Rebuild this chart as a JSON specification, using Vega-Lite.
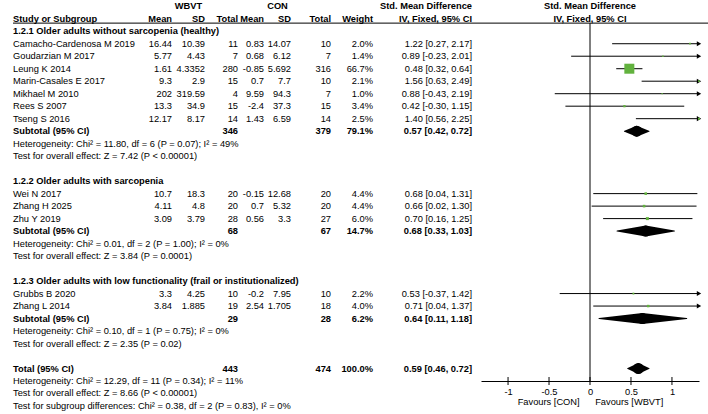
{
"$schema": "https://vega.github.io/schema/vega-lite/v6.json",
"background": "white",
"padding": {"left": 12, "top": 0, "right": 0, "bottom": 0},
"bounds": "flush",
"spacing": 0,
"config": {
 "view": {"stroke": null},
 "text": {"font": "Liberation Sans", "fontSize": 9.3, "color": "#000"},
 "axisX": {"domainColor": "#000", "ticks": false, "domainWidth": 1, "labelFont": "Liberation Sans", "labelFontSize": 9.3, "labelColor": "#000", "labelPadding": 6, "labelFlush": false, "labelOverlap": false, "titleFont": "Liberation Sans", "titleFontSize": 9.3, "titleFontWeight": "normal", "titleColor": "#000", "titlePadding": 1, "grid": false}
},
"data": {"values": [
 {"row": -1, "kind": "head1", "sd1": "WBVT", "sd2": "CON", "ci": "Std. Mean Difference", "plot": "Std. Mean Difference"},
 {"row": 0, "kind": "head2", "label": "Study or Subgroup", "m1": "Mean", "sd1": "SD", "n1": "Total", "m2": "Mean", "sd2": "SD", "n2": "Total", "w": "Weight", "ci": "IV, Fixed, 95% CI", "plot": "IV, Fixed, 95% CI"},
 {"row": 1, "kind": "section", "label": "1.2.1 Older adults without sarcopenia (healthy)"},
 {"row": 2, "kind": "study", "label": "Camacho-Cardenosa M 2019", "m1": "16.44", "sd1": "10.39", "n1": "11", "m2": "0.83", "sd2": "14.07", "n2": "10", "w": "2.0%", "ci": "1.22 [0.27, 2.17]", "est": 1.22, "lo": 0.27, "hi": 2.17, "wt": 2.0},
 {"row": 3, "kind": "study", "label": "Goudarzian M 2017", "m1": "5.77", "sd1": "4.43", "n1": "7", "m2": "0.68", "sd2": "6.12", "n2": "7", "w": "1.4%", "ci": "0.89 [-0.23, 2.01]", "est": 0.89, "lo": -0.23, "hi": 2.01, "wt": 1.4},
 {"row": 4, "kind": "study", "label": "Leung K 2014", "m1": "1.61", "sd1": "4.3352", "n1": "280", "m2": "-0.85", "sd2": "5.692", "n2": "316", "w": "66.7%", "ci": "0.48 [0.32, 0.64]", "est": 0.48, "lo": 0.32, "hi": 0.64, "wt": 66.7},
 {"row": 5, "kind": "study", "label": "Marin-Casales E 2017", "m1": "9.3", "sd1": "2.9", "n1": "15", "m2": "0.7", "sd2": "7.7", "n2": "10", "w": "2.1%", "ci": "1.56 [0.63, 2.49]", "est": 1.56, "lo": 0.63, "hi": 2.49, "wt": 2.1},
 {"row": 6, "kind": "study", "label": "Mikhael M 2010", "m1": "202", "sd1": "319.59", "n1": "4", "m2": "9.59", "sd2": "94.3", "n2": "7", "w": "1.0%", "ci": "0.88 [-0.43, 2.19]", "est": 0.88, "lo": -0.43, "hi": 2.19, "wt": 1.0},
 {"row": 7, "kind": "study", "label": "Rees S 2007", "m1": "13.3", "sd1": "34.9", "n1": "15", "m2": "-2.4", "sd2": "37.3", "n2": "15", "w": "3.4%", "ci": "0.42 [-0.30, 1.15]", "est": 0.42, "lo": -0.30, "hi": 1.15, "wt": 3.4},
 {"row": 8, "kind": "study", "label": "Tseng S 2016", "m1": "12.17", "sd1": "8.17", "n1": "14", "m2": "1.43", "sd2": "6.59", "n2": "14", "w": "2.5%", "ci": "1.40 [0.56, 2.25]", "est": 1.40, "lo": 0.56, "hi": 2.25, "wt": 2.5},
 {"row": 9, "kind": "subtotal", "label": "Subtotal (95% CI)", "n1": "346", "n2": "379", "w": "79.1%", "ci": "0.57 [0.42, 0.72]", "est": 0.57, "lo": 0.42, "hi": 0.72},
 {"row": 10, "kind": "het", "label": "Heterogeneity: Chi² = 11.80, df = 6 (P = 0.07); I² = 49%"},
 {"row": 11, "kind": "het", "label": "Test for overall effect: Z = 7.42 (P < 0.00001)"},
 {"row": 13, "kind": "section", "label": "1.2.2 Older adults with sarcopenia"},
 {"row": 14, "kind": "study", "label": "Wei N 2017", "m1": "10.7", "sd1": "18.3", "n1": "20", "m2": "-0.15", "sd2": "12.68", "n2": "20", "w": "4.4%", "ci": "0.68 [0.04, 1.31]", "est": 0.68, "lo": 0.04, "hi": 1.31, "wt": 4.4},
 {"row": 15, "kind": "study", "label": "Zhang H 2025", "m1": "4.11", "sd1": "4.8", "n1": "20", "m2": "0.7", "sd2": "5.32", "n2": "20", "w": "4.4%", "ci": "0.66 [0.02, 1.30]", "est": 0.66, "lo": 0.02, "hi": 1.30, "wt": 4.4},
 {"row": 16, "kind": "study", "label": "Zhu Y 2019", "m1": "3.09", "sd1": "3.79", "n1": "28", "m2": "0.56", "sd2": "3.3", "n2": "27", "w": "6.0%", "ci": "0.70 [0.16, 1.25]", "est": 0.70, "lo": 0.16, "hi": 1.25, "wt": 6.0},
 {"row": 17, "kind": "subtotal", "label": "Subtotal (95% CI)", "n1": "68", "n2": "67", "w": "14.7%", "ci": "0.68 [0.33, 1.03]", "est": 0.68, "lo": 0.33, "hi": 1.03},
 {"row": 18, "kind": "het", "label": "Heterogeneity: Chi² = 0.01, df = 2 (P = 1.00); I² = 0%"},
 {"row": 19, "kind": "het", "label": "Test for overall effect: Z = 3.84 (P = 0.0001)"},
 {"row": 21, "kind": "section", "label": "1.2.3 Older adults with low functionality (frail or institutionalized)"},
 {"row": 22, "kind": "study", "label": "Grubbs B 2020", "m1": "3.3", "sd1": "4.25", "n1": "10", "m2": "-0.2", "sd2": "7.95", "n2": "10", "w": "2.2%", "ci": "0.53 [-0.37, 1.42]", "est": 0.53, "lo": -0.37, "hi": 1.42, "wt": 2.2},
 {"row": 23, "kind": "study", "label": "Zhang L 2014", "m1": "3.84", "sd1": "1.885", "n1": "19", "m2": "2.54", "sd2": "1.705", "n2": "18", "w": "4.0%", "ci": "0.71 [0.04, 1.37]", "est": 0.71, "lo": 0.04, "hi": 1.37, "wt": 4.0},
 {"row": 24, "kind": "subtotal", "label": "Subtotal (95% CI)", "n1": "29", "n2": "28", "w": "6.2%", "ci": "0.64 [0.11, 1.18]", "est": 0.64, "lo": 0.11, "hi": 1.18},
 {"row": 25, "kind": "het", "label": "Heterogeneity: Chi² = 0.10, df = 1 (P = 0.75); I² = 0%"},
 {"row": 26, "kind": "het", "label": "Test for overall effect: Z = 2.35 (P = 0.02)"},
 {"row": 28, "kind": "total", "label": "Total (95% CI)", "n1": "443", "n2": "474", "w": "100.0%", "ci": "0.59 [0.46, 0.72]", "est": 0.59, "lo": 0.46, "hi": 0.72},
 {"row": 29, "kind": "het", "label": "Heterogeneity: Chi² = 12.29, df = 11 (P = 0.34); I² = 11%"},
 {"row": 30, "kind": "het", "label": "Test for overall effect: Z = 8.66 (P < 0.00001)"},
 {"row": 31, "kind": "het", "label": "Test for subgroup differences: Chi² = 0.38, df = 2 (P = 0.83), I² = 0%"}
]},
"hconcat": [
 {"width": 159, "height": 381, "layer": [
  {"data": {"values": [{}]}, "mark": {"type": "rule", "color": "#000", "strokeWidth": 1}, "encoding": {"y": {"datum": 0.35, "type": "quantitative", "scale": {"domain": [-1.5, 29], "reverse": true, "nice": false, "zero": false}, "axis": null}}},
  {"transform": [{"filter": {"field": "kind", "oneOf": ["study", "het"]}}], "mark": {"type": "text", "align": "left"}, "encoding": {"x": {"datum": 0, "type": "quantitative", "scale": {"domain": [0, 1]}, "axis": null}, "y": {"field": "row", "type": "quantitative", "scale": {"domain": [-1.5, 29], "reverse": true, "nice": false, "zero": false}, "axis": null}, "text": {"field": "label", "type": "nominal"}}},
  {"transform": [{"filter": {"field": "kind", "oneOf": ["section", "subtotal", "total", "head2"]}}], "mark": {"type": "text", "align": "left", "fontWeight": "bold"}, "encoding": {"x": {"datum": 0, "type": "quantitative", "scale": {"domain": [0, 1]}, "axis": null}, "y": {"field": "row", "type": "quantitative", "scale": {"domain": [-1.5, 29], "reverse": true, "nice": false, "zero": false}, "axis": null}, "text": {"field": "label", "type": "nominal"}}},
  {"transform": [{"filter": {"field": "kind", "equal": "study"}}], "mark": {"type": "text", "align": "right"}, "encoding": {"x": {"datum": 1, "type": "quantitative", "scale": {"domain": [0, 1]}, "axis": null}, "y": {"field": "row", "type": "quantitative", "scale": {"domain": [-1.5, 29], "reverse": true, "nice": false, "zero": false}, "axis": null}, "text": {"field": "m1", "type": "nominal"}}},
  {"transform": [{"filter": {"field": "kind", "equal": "head2"}}], "mark": {"type": "text", "align": "right", "fontWeight": "bold"}, "encoding": {"x": {"datum": 1, "type": "quantitative", "scale": {"domain": [0, 1]}, "axis": null}, "y": {"field": "row", "type": "quantitative", "scale": {"domain": [-1.5, 29], "reverse": true, "nice": false, "zero": false}, "axis": null}, "text": {"field": "m1", "type": "nominal"}}}
 ]},
 {"width": 33, "height": 381, "layer": [
  {"data": {"values": [{}]}, "mark": {"type": "rule", "color": "#000", "strokeWidth": 1}, "encoding": {"y": {"datum": 0.35, "type": "quantitative", "scale": {"domain": [-1.5, 29], "reverse": true, "nice": false, "zero": false}, "axis": null}}},
  {"transform": [{"filter": {"field": "kind", "equal": "study"}}], "mark": {"type": "text", "align": "right"}, "encoding": {"x": {"datum": 1, "type": "quantitative", "scale": {"domain": [0, 1]}, "axis": null}, "y": {"field": "row", "type": "quantitative", "scale": {"domain": [-1.5, 29], "reverse": true, "nice": false, "zero": false}, "axis": null}, "text": {"field": "sd1", "type": "nominal"}}},
  {"transform": [{"filter": {"field": "kind", "equal": "head2"}}], "mark": {"type": "text", "align": "right", "fontWeight": "bold"}, "encoding": {"x": {"datum": 1, "type": "quantitative", "scale": {"domain": [0, 1]}, "axis": null}, "y": {"field": "row", "type": "quantitative", "scale": {"domain": [-1.5, 29], "reverse": true, "nice": false, "zero": false}, "axis": null}, "text": {"field": "sd1", "type": "nominal"}}},
  {"transform": [{"filter": {"field": "kind", "equal": "head1"}}], "mark": {"type": "text", "align": "center", "fontWeight": "bold"}, "encoding": {"x": {"datum": 0.5, "type": "quantitative", "scale": {"domain": [0, 1]}, "axis": null}, "y": {"field": "row", "type": "quantitative", "scale": {"domain": [-1.5, 29], "reverse": true, "nice": false, "zero": false}, "axis": null}, "text": {"field": "sd1", "type": "nominal"}}}
 ]},
 {"width": 33, "height": 381, "layer": [
  {"data": {"values": [{}]}, "mark": {"type": "rule", "color": "#000", "strokeWidth": 1}, "encoding": {"y": {"datum": 0.35, "type": "quantitative", "scale": {"domain": [-1.5, 29], "reverse": true, "nice": false, "zero": false}, "axis": null}}},
  {"transform": [{"filter": {"field": "kind", "equal": "study"}}], "mark": {"type": "text", "align": "right"}, "encoding": {"x": {"datum": 1, "type": "quantitative", "scale": {"domain": [0, 1]}, "axis": null}, "y": {"field": "row", "type": "quantitative", "scale": {"domain": [-1.5, 29], "reverse": true, "nice": false, "zero": false}, "axis": null}, "text": {"field": "n1", "type": "nominal"}}},
  {"transform": [{"filter": {"field": "kind", "oneOf": ["head2", "subtotal", "total"]}}], "mark": {"type": "text", "align": "right", "fontWeight": "bold"}, "encoding": {"x": {"datum": 1, "type": "quantitative", "scale": {"domain": [0, 1]}, "axis": null}, "y": {"field": "row", "type": "quantitative", "scale": {"domain": [-1.5, 29], "reverse": true, "nice": false, "zero": false}, "axis": null}, "text": {"field": "n1", "type": "nominal"}}}
 ]},
 {"width": 26, "height": 381, "layer": [
  {"data": {"values": [{}]}, "mark": {"type": "rule", "color": "#000", "strokeWidth": 1}, "encoding": {"y": {"datum": 0.35, "type": "quantitative", "scale": {"domain": [-1.5, 29], "reverse": true, "nice": false, "zero": false}, "axis": null}}},
  {"transform": [{"filter": {"field": "kind", "equal": "study"}}], "mark": {"type": "text", "align": "right"}, "encoding": {"x": {"datum": 1, "type": "quantitative", "scale": {"domain": [0, 1]}, "axis": null}, "y": {"field": "row", "type": "quantitative", "scale": {"domain": [-1.5, 29], "reverse": true, "nice": false, "zero": false}, "axis": null}, "text": {"field": "m2", "type": "nominal"}}},
  {"transform": [{"filter": {"field": "kind", "equal": "head2"}}], "mark": {"type": "text", "align": "right", "fontWeight": "bold"}, "encoding": {"x": {"datum": 1, "type": "quantitative", "scale": {"domain": [0, 1]}, "axis": null}, "y": {"field": "row", "type": "quantitative", "scale": {"domain": [-1.5, 29], "reverse": true, "nice": false, "zero": false}, "axis": null}, "text": {"field": "m2", "type": "nominal"}}}
 ]},
 {"width": 27, "height": 381, "layer": [
  {"data": {"values": [{}]}, "mark": {"type": "rule", "color": "#000", "strokeWidth": 1}, "encoding": {"y": {"datum": 0.35, "type": "quantitative", "scale": {"domain": [-1.5, 29], "reverse": true, "nice": false, "zero": false}, "axis": null}}},
  {"transform": [{"filter": {"field": "kind", "equal": "study"}}], "mark": {"type": "text", "align": "right"}, "encoding": {"x": {"datum": 1, "type": "quantitative", "scale": {"domain": [0, 1]}, "axis": null}, "y": {"field": "row", "type": "quantitative", "scale": {"domain": [-1.5, 29], "reverse": true, "nice": false, "zero": false}, "axis": null}, "text": {"field": "sd2", "type": "nominal"}}},
  {"transform": [{"filter": {"field": "kind", "equal": "head2"}}], "mark": {"type": "text", "align": "right", "fontWeight": "bold"}, "encoding": {"x": {"datum": 1, "type": "quantitative", "scale": {"domain": [0, 1]}, "axis": null}, "y": {"field": "row", "type": "quantitative", "scale": {"domain": [-1.5, 29], "reverse": true, "nice": false, "zero": false}, "axis": null}, "text": {"field": "sd2", "type": "nominal"}}},
  {"transform": [{"filter": {"field": "kind", "equal": "head1"}}], "mark": {"type": "text", "align": "center", "fontWeight": "bold"}, "encoding": {"x": {"datum": 0.5, "type": "quantitative", "scale": {"domain": [0, 1]}, "axis": null}, "y": {"field": "row", "type": "quantitative", "scale": {"domain": [-1.5, 29], "reverse": true, "nice": false, "zero": false}, "axis": null}, "text": {"field": "sd2", "type": "nominal"}}}
 ]},
 {"width": 40, "height": 381, "layer": [
  {"data": {"values": [{}]}, "mark": {"type": "rule", "color": "#000", "strokeWidth": 1}, "encoding": {"y": {"datum": 0.35, "type": "quantitative", "scale": {"domain": [-1.5, 29], "reverse": true, "nice": false, "zero": false}, "axis": null}}},
  {"transform": [{"filter": {"field": "kind", "equal": "study"}}], "mark": {"type": "text", "align": "right"}, "encoding": {"x": {"datum": 1, "type": "quantitative", "scale": {"domain": [0, 1]}, "axis": null}, "y": {"field": "row", "type": "quantitative", "scale": {"domain": [-1.5, 29], "reverse": true, "nice": false, "zero": false}, "axis": null}, "text": {"field": "n2", "type": "nominal"}}},
  {"transform": [{"filter": {"field": "kind", "oneOf": ["head2", "subtotal", "total"]}}], "mark": {"type": "text", "align": "right", "fontWeight": "bold"}, "encoding": {"x": {"datum": 1, "type": "quantitative", "scale": {"domain": [0, 1]}, "axis": null}, "y": {"field": "row", "type": "quantitative", "scale": {"domain": [-1.5, 29], "reverse": true, "nice": false, "zero": false}, "axis": null}, "text": {"field": "n2", "type": "nominal"}}}
 ]},
 {"width": 42, "height": 381, "layer": [
  {"data": {"values": [{}]}, "mark": {"type": "rule", "color": "#000", "strokeWidth": 1}, "encoding": {"y": {"datum": 0.35, "type": "quantitative", "scale": {"domain": [-1.5, 29], "reverse": true, "nice": false, "zero": false}, "axis": null}}},
  {"transform": [{"filter": {"field": "kind", "equal": "study"}}], "mark": {"type": "text", "align": "right"}, "encoding": {"x": {"datum": 1, "type": "quantitative", "scale": {"domain": [0, 1]}, "axis": null}, "y": {"field": "row", "type": "quantitative", "scale": {"domain": [-1.5, 29], "reverse": true, "nice": false, "zero": false}, "axis": null}, "text": {"field": "w", "type": "nominal"}}},
  {"transform": [{"filter": {"field": "kind", "oneOf": ["head2", "subtotal", "total"]}}], "mark": {"type": "text", "align": "right", "fontWeight": "bold"}, "encoding": {"x": {"datum": 1, "type": "quantitative", "scale": {"domain": [0, 1]}, "axis": null}, "y": {"field": "row", "type": "quantitative", "scale": {"domain": [-1.5, 29], "reverse": true, "nice": false, "zero": false}, "axis": null}, "text": {"field": "w", "type": "nominal"}}}
 ]},
 {"width": 99, "height": 381, "layer": [
  {"data": {"values": [{}]}, "mark": {"type": "rule", "color": "#000", "strokeWidth": 1}, "encoding": {"y": {"datum": 0.35, "type": "quantitative", "scale": {"domain": [-1.5, 29], "reverse": true, "nice": false, "zero": false}, "axis": null}}},
  {"transform": [{"filter": {"field": "kind", "equal": "study"}}], "mark": {"type": "text", "align": "right"}, "encoding": {"x": {"datum": 1, "type": "quantitative", "scale": {"domain": [0, 1]}, "axis": null}, "y": {"field": "row", "type": "quantitative", "scale": {"domain": [-1.5, 29], "reverse": true, "nice": false, "zero": false}, "axis": null}, "text": {"field": "ci", "type": "nominal"}}},
  {"transform": [{"filter": {"field": "kind", "oneOf": ["head1", "head2", "subtotal", "total"]}}], "mark": {"type": "text", "align": "right", "fontWeight": "bold"}, "encoding": {"x": {"datum": 1, "type": "quantitative", "scale": {"domain": [0, 1]}, "axis": null}, "y": {"field": "row", "type": "quantitative", "scale": {"domain": [-1.5, 29], "reverse": true, "nice": false, "zero": false}, "axis": null}, "text": {"field": "ci", "type": "nominal"}}}
 ]},
 {"width": 9, "height": 381, "layer": [
  {"data": {"values": [{}]}, "mark": {"type": "rule", "color": "#000", "strokeWidth": 1}, "encoding": {"y": {"datum": 0.35, "type": "quantitative", "scale": {"domain": [-1.5, 29], "reverse": true, "nice": false, "zero": false}, "axis": null}}}
 ]},
 {"width": 218, "height": 381, "resolve": {"scale": {"size": "independent"}}, "layer": [
  {"data": {"values": [{}]}, "mark": {"type": "rule", "color": "#000", "strokeWidth": 1}, "encoding": {"y": {"datum": 0.35, "type": "quantitative", "scale": {"domain": [-1.5, 29], "reverse": true, "nice": false, "zero": false}, "axis": null}}},
  {"transform": [{"filter": {"field": "kind", "oneOf": ["head1", "head2"]}}], "mark": {"type": "text", "align": "center", "fontWeight": "bold"}, "encoding": {"x": {"datum": 0, "type": "quantitative", "scale": {"domain": [-1.33, 1.33], "clamp": true, "nice": false, "zero": false}, "title": "Favours [CON]\u00a0\u00a0\u00a0\u00a0\u00a0\u00a0Favours [WBVT]"}, "y": {"field": "row", "type": "quantitative", "scale": {"domain": [-1.5, 29], "reverse": true, "nice": false, "zero": false}, "axis": null}, "text": {"field": "plot", "type": "nominal"}}},
  {"data": {"values": [{}]}, "mark": {"type": "rule", "color": "#000", "strokeWidth": 1}, "encoding": {"x": {"datum": 0, "type": "quantitative", "scale": {"domain": [-1.33, 1.33], "clamp": true, "nice": false, "zero": false}, "title": "Favours [CON]\u00a0\u00a0\u00a0\u00a0\u00a0\u00a0Favours [WBVT]"}, "y": {"datum": 0.35, "type": "quantitative", "scale": {"domain": [-1.5, 29], "reverse": true, "nice": false, "zero": false}, "axis": null}, "y2": {"datum": 29}}},
  {"data": {"values": [{"v": -1}, {"v": -0.5}, {"v": 0}, {"v": 0.5}, {"v": 1}]}, "mark": {"type": "tick", "orient": "vertical", "color": "#000", "size": 8, "thickness": 1, "opacity": 1}, "encoding": {"x": {"field": "v", "type": "quantitative", "scale": {"domain": [-1.33, 1.33], "clamp": true, "nice": false, "zero": false}, "title": "Favours [CON]\u00a0\u00a0\u00a0\u00a0\u00a0\u00a0Favours [WBVT]"}, "y": {"datum": 29, "type": "quantitative", "scale": {"domain": [-1.5, 29], "reverse": true, "nice": false, "zero": false}, "axis": null}}},
  {"transform": [{"filter": {"field": "kind", "equal": "study"}}], "mark": {"type": "rule", "color": "#000", "strokeWidth": 1}, "encoding": {"x": {"field": "lo", "type": "quantitative", "scale": {"domain": [-1.33, 1.33], "clamp": true, "nice": false, "zero": false}, "axis": {"values": [-1, -0.5, 0, 0.5, 1], "labelExpr": "'' + datum.value"}, "title": "Favours [CON]\u00a0\u00a0\u00a0\u00a0\u00a0\u00a0Favours [WBVT]"}, "x2": {"field": "hi"}, "y": {"field": "row", "type": "quantitative", "scale": {"domain": [-1.5, 29], "reverse": true, "nice": false, "zero": false}, "axis": null}}},
  {"transform": [{"filter": {"field": "kind", "equal": "study"}}, {"filter": {"field": "hi", "gt": 1.33}}], "mark": {"type": "point", "shape": "triangle-right", "filled": true, "color": "#000", "opacity": 1, "size": 26}, "encoding": {"x": {"field": "hi", "type": "quantitative", "scale": {"domain": [-1.33, 1.33], "clamp": true, "nice": false, "zero": false}, "title": "Favours [CON]\u00a0\u00a0\u00a0\u00a0\u00a0\u00a0Favours [WBVT]"}, "y": {"field": "row", "type": "quantitative", "scale": {"domain": [-1.5, 29], "reverse": true, "nice": false, "zero": false}, "axis": null}}},
  {"transform": [{"filter": {"field": "kind", "equal": "study"}}], "mark": {"type": "point", "shape": "square", "filled": true, "color": "#62B23E", "opacity": 1, "strokeWidth": 0}, "encoding": {"x": {"field": "est", "type": "quantitative", "scale": {"domain": [-1.33, 1.33], "clamp": true, "nice": false, "zero": false}, "title": "Favours [CON]\u00a0\u00a0\u00a0\u00a0\u00a0\u00a0Favours [WBVT]"}, "y": {"field": "row", "type": "quantitative", "scale": {"domain": [-1.5, 29], "reverse": true, "nice": false, "zero": false}, "axis": null}, "size": {"field": "wt", "type": "quantitative", "scale": {"domain": [0, 66.7], "range": [0, 100]}, "legend": null}}},
  {"transform": [{"filter": {"field": "kind", "oneOf": ["subtotal", "total"]}}, {"fold": ["lo", "est"], "as": ["part", "val"]}], "mark": {"type": "trail", "color": "#000"}, "encoding": {"x": {"field": "val", "type": "quantitative", "scale": {"domain": [-1.33, 1.33], "clamp": true, "nice": false, "zero": false}, "title": "Favours [CON]\u00a0\u00a0\u00a0\u00a0\u00a0\u00a0Favours [WBVT]"}, "y": {"field": "row", "type": "quantitative", "scale": {"domain": [-1.5, 29], "reverse": true, "nice": false, "zero": false}, "axis": null}, "detail": {"field": "row", "type": "nominal"}, "size": {"field": "part", "type": "nominal", "scale": {"domain": ["lo", "est"], "range": [0, 11]}, "legend": null}}},
  {"transform": [{"filter": {"field": "kind", "oneOf": ["subtotal", "total"]}}, {"fold": ["hi", "est"], "as": ["part", "val"]}], "mark": {"type": "trail", "color": "#000"}, "encoding": {"x": {"field": "val", "type": "quantitative", "scale": {"domain": [-1.33, 1.33], "clamp": true, "nice": false, "zero": false}, "title": "Favours [CON]\u00a0\u00a0\u00a0\u00a0\u00a0\u00a0Favours [WBVT]"}, "y": {"field": "row", "type": "quantitative", "scale": {"domain": [-1.5, 29], "reverse": true, "nice": false, "zero": false}, "axis": null}, "detail": {"field": "row", "type": "nominal"}, "size": {"field": "part", "type": "nominal", "scale": {"domain": ["hi", "est"], "range": [0, 11]}, "legend": null}}}
 ]},
 {"width": 10, "height": 381, "layer": [
  {"data": {"values": [{}]}, "mark": {"type": "rule", "color": "#000", "strokeWidth": 1}, "encoding": {"y": {"datum": 0.35, "type": "quantitative", "scale": {"domain": [-1.5, 29], "reverse": true, "nice": false, "zero": false}, "axis": null}}}
 ]}
]
}
